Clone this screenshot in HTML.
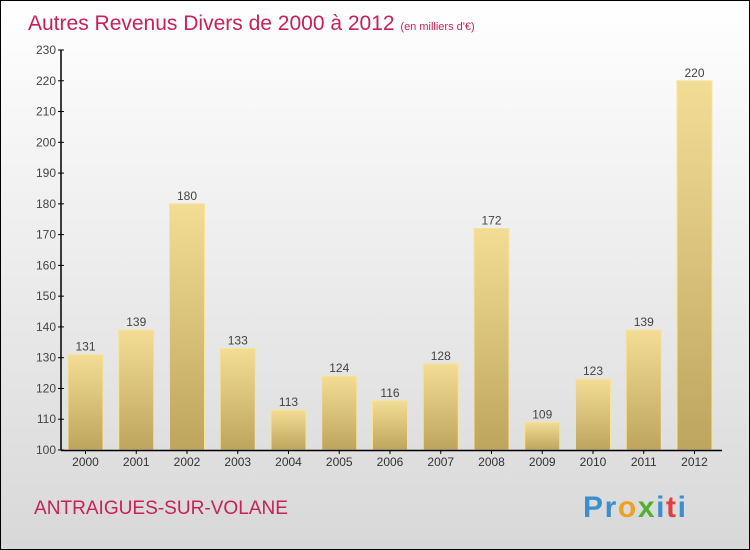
<!DOCTYPE html>
<html><head><meta charset="utf-8"><style>
body{margin:0}
svg{display:block;font-family:"Liberation Sans",sans-serif}
</style></head><body>
<svg width="750" height="550">
<defs>
<linearGradient id="bg" x1="0" y1="0" x2="0" y2="1"><stop offset="0" stop-color="#ffffff"/><stop offset="1" stop-color="#d8d8d8"/></linearGradient>
<linearGradient id="bar" x1="0" y1="0" x2="0" y2="1"><stop offset="0" stop-color="#f3dd95"/><stop offset="1" stop-color="#bea55e"/></linearGradient>
</defs>
<rect x="0.5" y="0.5" width="749" height="549" fill="url(#bg)" stroke="#000"/>
<text x="28" y="30" font-size="21" fill="#c8205a">Autres Revenus Divers de 2000 à 2012 <tspan font-size="11">(en milliers d'€)</tspan></text>
<text x="34" y="514" font-size="19" fill="#c8205a" textLength="254" lengthAdjust="spacingAndGlyphs">ANTRAIGUES-SUR-VOLANE</text>
<g font-size="30" font-weight="bold">
<text x="583" y="517" textLength="103" lengthAdjust="spacing"><tspan fill="#3a8fd0">Pr</tspan><tspan fill="#f0a020">o</tspan><tspan fill="#50b030">x</tspan><tspan fill="#3a8fd0">i</tspan><tspan fill="#e04040">t</tspan><tspan fill="#3a8fd0">i</tspan></text>
</g>
<g id="plot"></g>
</svg>
<script>
const categories=["2000","2001","2002","2003","2004","2005","2006","2007","2008","2009","2010","2011","2012"];
const values=[131,139,180,133,113,124,116,128,172,109,123,139,220];
const yTicks=[100,110,120,130,140,150,160,170,180,190,200,210,220,230];
const NS="http://www.w3.org/2000/svg";
const g=document.getElementById('plot');
const y=v=>450-(v-100)*(400/130);
const x=i=>85.5+i*50.75;
function mk(t,a,txt){const e=document.createElementNS(NS,t);for(const k in a)e.setAttribute(k,a[k]);if(txt!=null)e.textContent=txt;g.appendChild(e);return e;}
values.forEach((v,i)=>{
 const r=mk('rect',{x:x(i)-17.5,y:y(v),width:35,height:450-y(v),fill:'url(#bar)',stroke:'#f6e49c','stroke-width':1});
 
 
 const l=mk('text',{x:x(i),y:y(v)-4,'text-anchor':'middle','font-size':12,fill:'#444'},String(v));
 
 
 const c=mk('text',{x:x(i),y:466,'text-anchor':'middle','font-size':12,fill:'#333'},categories[i]);
 
 
 const tk=mk('line',{x1:x(i),x2:x(i),y1:450,y2:454,stroke:'#000'});
 
 
});
yTicks.forEach(t=>{
 const tk=mk('line',{x1:58,x2:64,y1:y(t),y2:y(t),stroke:'#000'});
 
 
 const l=mk('text',{x:56,y:y(t)+4,'text-anchor':'end','font-size':12,fill:'#444'},String(t));
 
 
});
const ya=mk('line',{x1:61,x2:61,y1:y(230),y2:450.5,stroke:'#000','stroke-width':1.5});


const xa=mk('line',{x1:61,x2:722,y1:450.5,y2:450.5,stroke:'#000','stroke-width':1.5});


</script>
</body></html>
